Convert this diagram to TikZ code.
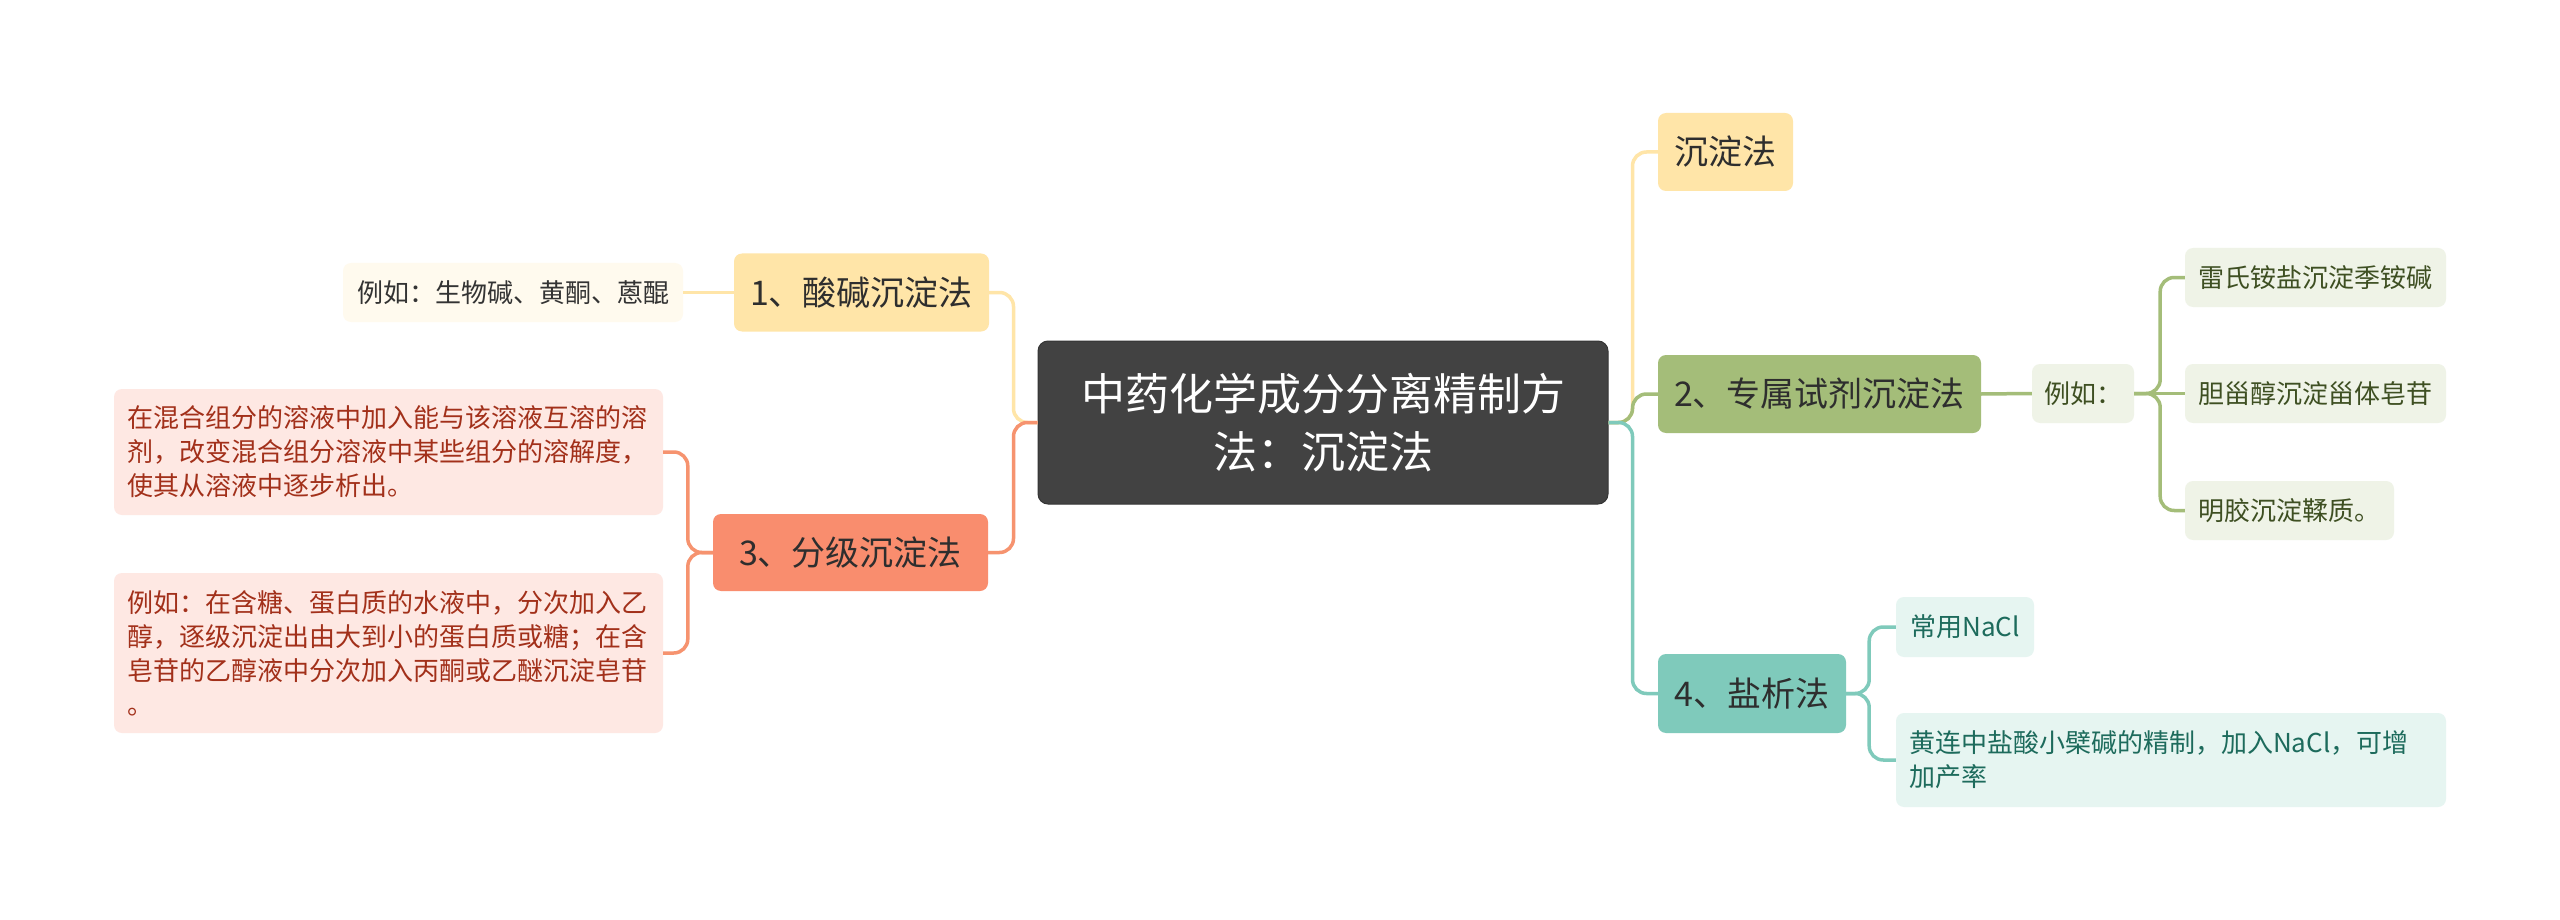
\documentclass[tikz,border=0pt]{standalone}
\usepackage{fontspec}
\setmainfont{Noto Sans CJK SC}
\definecolor{cfill}{HTML}{424242}
\definecolor{dk}{HTML}{2E2E2E}
\definecolor{ymain}{HTML}{FFE5A8}
\definecolor{ylight}{HTML}{FFFAEE}
\definecolor{ytext}{HTML}{333333}
\definecolor{omain}{HTML}{F98D6E}
\definecolor{olight}{HTML}{FEE8E3}
\definecolor{otext}{HTML}{A2301A}
\definecolor{oline}{HTML}{F6936F}
\definecolor{gmain}{HTML}{A4BD79}
\definecolor{glight}{HTML}{EFF3E7}
\definecolor{gtext}{HTML}{3E4F22}
\definecolor{tmain}{HTML}{7FCABB}
\definecolor{tlight}{HTML}{E6F5F1}
\definecolor{ttext}{HTML}{1D6B5C}
\tikzset{
  base/.style={rounded corners=8pt, inner sep=0pt, align=center},
  lvl1/.style={base, font=\fontsize{34pt}{40pt}\selectfont, text=dk},
  lvl2/.style={base, font=\fontsize{26pt}{34pt}\selectfont},
  conn/.style={line width=3.5pt, rounded corners=14pt},
}
\begin{document}
\begin{tikzpicture}[x=1pt,y=-1pt]
\fill[white] (0,0) rectangle (2560,920);
\useasboundingbox (0,0) rectangle (2560,920);

% center
\node[base, rounded corners=10pt, fill=cfill, draw=cfill!80!black, line width=1pt, text=white,
  font=\fontsize{44pt}{58pt}\selectfont, minimum width=570pt, minimum height=163pt] (c) at (1323,422.5)
  {中药化学成分分离精制方\\法：沉淀法};

% left branches
\node[lvl1, fill=ymain, minimum width=255pt, minimum height=78pt] (b1) at (861.5,292.5) {1、酸碱沉淀法};
\node[lvl2, fill=ylight, text=ytext, minimum width=340pt, minimum height=59pt] (e1) at (513,292.5) {例如：生物碱、黄酮、蒽醌};

\node[lvl1, fill=omain, minimum width=275pt, minimum height=77pt] (b3) at (850.5,552.5) {3、分级沉淀法};
\node[lvl2, fill=olight, text=otext, minimum width=549pt, minimum height=126pt, text width=523pt, align=left] (t1) at (388.5,452)
  {在混合组分的溶液中加入能与该溶液互溶的溶\\剂，改变混合组分溶液中某些组分的溶解度，\\使其从溶液中逐步析出。};
\node[lvl2, fill=olight, text=otext, minimum width=549pt, minimum height=160pt, text width=523pt, align=left] (t2) at (388.5,653)
  {例如：在含糖、蛋白质的水液中，分次加入乙\\醇，逐级沉淀出由大到小的蛋白质或糖；在含\\皂苷的乙醇液中分次加入丙酮或乙醚沉淀皂苷\\。};

% right branches
\node[lvl1, fill=ymain, minimum width=135pt, minimum height=78pt] (r0) at (1725.5,152) {沉淀法};

\node[lvl1, fill=gmain, minimum width=323pt, minimum height=78pt] (b2) at (1819.5,394) {2、专属试剂沉淀法};
\node[lvl2, fill=glight, text=gtext, minimum width=102pt, minimum height=59pt] (eg) at (2083,393.5) {例如：};
\node[lvl2, fill=glight, text=gtext, minimum width=261pt, minimum height=59pt] (k1) at (2315.5,277.5) {雷氏铵盐沉淀季铵碱};
\node[lvl2, fill=glight, text=gtext, minimum width=261pt, minimum height=59pt] (k2) at (2315.5,393.5) {胆甾醇沉淀甾体皂苷};
\node[lvl2, fill=glight, text=gtext, minimum width=209pt, minimum height=59pt] (k3) at (2289.5,510.5) {明胶沉淀鞣质。};

\node[lvl1, fill=tmain, minimum width=188pt, minimum height=79pt] (b4) at (1752,693.5) {4、盐析法};
\node[lvl2, fill=tlight, text=ttext, minimum width=138pt, minimum height=60pt] (n1) at (1965,627) {常用NaCl};
\node[lvl2, fill=tlight, text=ttext, minimum width=550pt, minimum height=94pt, text width=524pt, align=left] (n2) at (2171,760)
  {黄连中盐酸小檗碱的精制，加入NaCl，可增\\加产率};

% connectors left
\draw[conn, ymain] (c.west) -- ++(-24,0) |- (b1.east);
\draw[conn, ymain] (b1.west) -- (e1.east);
\draw[conn, oline] (c.west) -- ++(-24,0) |- (b3.east);
\draw[conn, oline] (b3.west) -- ++(-25,0) |- (t1.east);
\draw[conn, oline] (b3.west) -- ++(-25,0) |- (t2.east);

% connectors right
\draw[conn, ymain] (c.east) -- ++(24,0) |- (r0.west);
\draw[conn, gmain] (c.east) -- ++(24,0) |- (b2.west);
\draw[conn, tmain] (c.east) -- ++(24,0) |- (b4.west);
\draw[conn, gmain] (b2.east) -- (eg.west);
\draw[conn, gmain] (eg.east) -- ++(26,0) |- (k1.west);
\draw[conn, gmain] (eg.east) -- (k2.west);
\draw[conn, gmain] (eg.east) -- ++(26,0) |- (k3.west);
\draw[conn, tmain] (b4.east) -- ++(23,0) |- (n1.west);
\draw[conn, tmain] (b4.east) -- ++(23,0) |- (n2.west);
\end{tikzpicture}
\end{document}
